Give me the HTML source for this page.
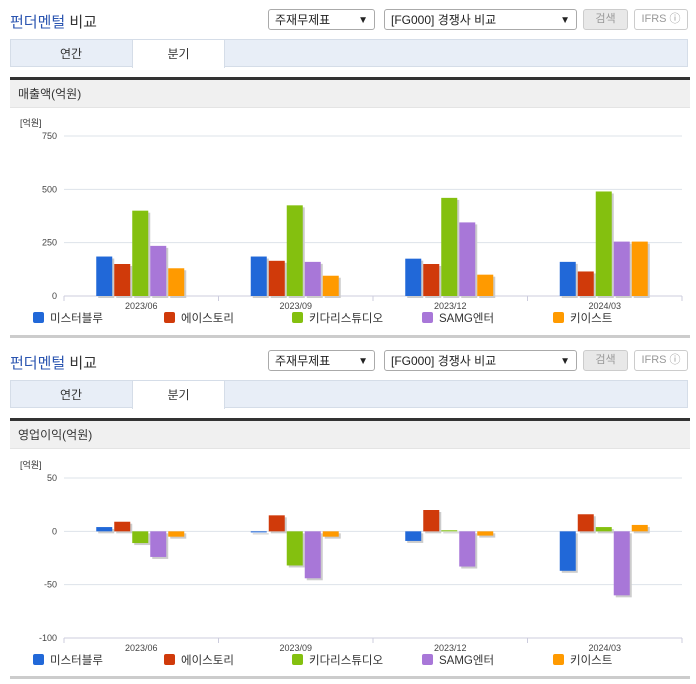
<!DOCTYPE html>
<html><head><meta charset="utf-8">
<style>
body{margin:0;width:696px;height:684px;background:#fff;font-family:"Liberation Sans","Noto Sans CJK KR",sans-serif;position:relative;overflow:hidden}
.abs{position:absolute}
.title{font-size:15px;color:#333;font-weight:normal}
.title b{color:#2b55b0;font-weight:normal}
.sel{border:1px solid #aaa;border-radius:3px;height:21px;font-size:12px;line-height:21px;padding-left:6px;box-sizing:border-box;color:#222;background:#fff}
.sel span{position:absolute;right:6px;top:0;font-size:10px}
.btn{border:1px solid #ccc;border-radius:3px;height:21px;font-size:11px;line-height:19px;text-align:center;box-sizing:border-box;color:#999}
.tabs{left:10px;width:678px;height:28px;background:#e8eef7;border:1px solid #d5dde8;box-sizing:border-box}
.tab{top:0;height:28px;font-size:12px;line-height:28px;text-align:center;color:#333}
.hline{left:10px;width:680px;height:3px;background:#333}
.sech{left:10px;width:680px;height:28px;background:#f0f0f0;font-size:12px;line-height:28px;padding-left:8px;box-sizing:border-box;color:#333;border-bottom:1px solid #e4e4e4}
.bot{left:10px;width:680px;height:3px;background:#ccc}
svg text{font-family:"Liberation Sans","Noto Sans CJK KR",sans-serif}
</style></head><body>
<div id="root"></div>
<script>
const categories=["2023/06","2023/09","2023/12","2024/03"];
const seriesNames=["미스터블루","에이스토리","키다리스튜디오","SAMG엔터","키이스트"];
const colors=["#2168d8","#d03a0a","#84c00f","#a877d8","#ff9a00"];
const revenue=[[185,185,175,160],[150,165,150,115],[400,425,460,490],[235,160,345,255],[130,95,100,255]];
const opIncome=[[4,-1,-9,-37],[9,15,20,16],[-11,-32,1,4],[-24,-44,-33,-60],[-5,-5,-4,6]];
const revTicks=[0,250,500,750];
const opTicks=[-100,-50,0,50];
const root=document.getElementById('root');
function block(top,secName,data,ticks,yMin,yMax,yTopPx,yBotPx,chartName){
  const h=`
  <div class="abs title" style="left:10px;top:${top+11}px"><b>펀더멘털</b> 비교</div>
  <div class="abs sel" style="left:268px;top:${top+9}px;width:107px">주재무제표<span>▼</span></div>
  <div class="abs sel" style="left:384px;top:${top+9}px;width:193px">[FG000] 경쟁사 비교<span>▼</span></div>
  <div class="abs btn" style="left:583px;top:${top+9}px;width:45px;background:#e8e8e8">검색</div>
  <div class="abs btn" style="left:634px;top:${top+9}px;width:54px">IFRS ⓘ</div>
  <div class="abs tabs" style="top:${top+39}px">
    <div class="abs tab" style="left:0;width:120px">연간</div>
    <div class="abs tab" style="left:121px;width:91px;background:#fff;border-left:1px solid #d5dde8;border-right:1px solid #d5dde8;height:28px">분기</div>
  </div>
  <div class="abs hline" style="top:${top+77}px"></div>
  <div class="abs sech" style="top:${top+80}px">${secName}</div>
  <div class="abs bot" style="top:${top+335}px"></div>`;
  const d=document.createElement('div');d.innerHTML=h;
  while(d.firstElementChild)root.appendChild(d.firstElementChild);
  const ns="http://www.w3.org/2000/svg";
  const svg=document.createElementNS(ns,'svg');
  
  
  svg.setAttribute('width',696);svg.setAttribute('height',230);
  svg.style.position='absolute';svg.style.left='0';svg.style.top=(top+110)+'px';
  root.appendChild(svg);
  const off=top+110;
  const y=v=>yTopPx-off+(yMax-v)/(yMax-yMin)*(yBotPx-yTopPx);
  const x0=64,x1=682,gw=(x1-x0)/categories.length;
  function el(t,a,txt){const e=document.createElementNS(ns,t);for(const k in a)e.setAttribute(k,a[k]);if(txt!==undefined)e.textContent=txt;svg.appendChild(e);return e;}
  let u=el('text',{x:20,y:y(yMax)-10,'font-size':9,fill:'#333'},'[억원]');
  
  ticks.forEach(t=>{
    let g=el('line',{x1:x0,x2:x1,y1:y(t),y2:y(t),stroke:'#dde3ea'});
    
    let l=el('text',{x:57,y:y(t)+3,'font-size':9,fill:'#444','text-anchor':'end'},t);
    
  });
  const yb=y(yMin);
  el('line',{x1:x0,x2:x1,y1:yb,y2:yb,stroke:'#ccd'});
  for(let i=0;i<=categories.length;i++){el('line',{x1:x0+i*gw,x2:x0+i*gw,y1:yb,y2:yb+5,stroke:'#ccd'});}
  categories.forEach((c,i)=>{
    const cx=x0+gw*(i+0.5);
    let l=el('text',{x:cx,y:yb+13,'font-size':9,fill:'#444','text-anchor':'middle'},c);
    
    seriesNames.forEach((s,j)=>{
      const v=data[j][i];const bx=cx-45+j*18;
      const ya=y(Math.max(v,0)),yz=y(Math.min(v,0));
      const hh=Math.max(yz-ya,1);
      el('rect',{x:bx+2,y:ya+2,width:16,height:hh,fill:'#ccc'});
      let r=el('rect',{x:bx,y:ya,width:16,height:hh,fill:colors[j]});
      
    });
  });
  const lx=[33,164,292,422,553];
  seriesNames.forEach((s,j)=>{
    let r=el('rect',{x:lx[j],y:yb+16,width:11,height:11,rx:2,fill:colors[j]});
    
    let t=el('text',{x:lx[j]+17,y:yb+26,'font-size':11.5,fill:'#333'},s);
    
  });
}
block(0,"매출액(억원)",revenue,revTicks,0,750,136,296,"revenue-chart");
block(341,"영업이익(억원)",opIncome,opTicks,-100,50,478,638,"operating-income-chart");
</script>
</body></html>
